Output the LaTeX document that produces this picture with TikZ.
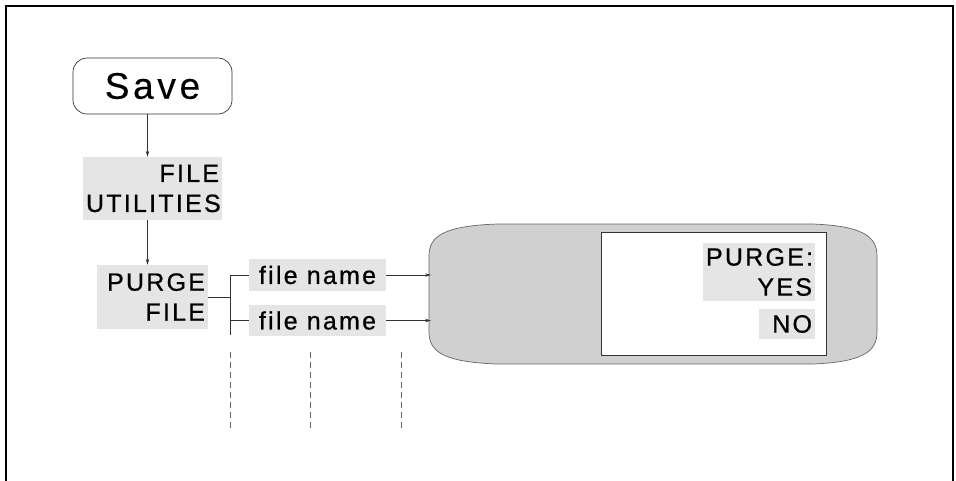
\documentclass[tikz,border=0pt]{standalone}
\usepackage{fontspec}
\setmainfont{Liberation Sans}
\usetikzlibrary{arrows.meta}
\tikzset{
  conn/.style={draw=black!80, line width=0.7pt},
  arr/.style={conn, -{Stealth[length=6pt,width=3.5pt]}},
  guideline/.style={draw=black!60, line width=0.7pt, dash pattern=on 6pt off 4pt},
  lbl/.style={font=\fontsize{25}{30}\selectfont\addfontfeature{LetterSpace=9,FakeBold=0.7}, inner sep=3pt, align=right},
  shadebox/.style={lbl, fill=gray!20, anchor=center},
}
\begin{document}
\begin{tikzpicture}[x=1pt, y=-1pt]
\useasboundingbox (0,0) rectangle (956,480);
% frame
\draw[line width=2pt] (6,481) -- (6,6) -- (953,6) -- (953,481);
% Save
\node[draw=black!80, line width=0.7pt, rounded corners=14pt, minimum width=159pt, minimum height=56pt,
      font=\fontsize{37}{40}\selectfont\addfontfeature{LetterSpace=10,FakeBold=0.3}] (save) at (152.5,86) {Save};
% file utilities
\node[shadebox, minimum width=139pt, minimum height=63pt, text width=133pt] (fu) at (152.5,188.5) {FILE\\UTILITIES};
\node[shadebox, minimum width=111pt, minimum height=64pt, text width=105pt] (pf) at (152.5,297) {PURGE\\FILE};
\node[shadebox, minimum width=137pt, minimum height=32pt] (fn1) at (317.5,275) {file name};
\node[shadebox, minimum width=137pt, minimum height=31pt] (fn2) at (317.5,320.5) {file name};
% big shape
\path[fill=gray!37, draw=black!60, line width=0.7pt]
  (497,224) -- (813,224) .. controls (862,226) and (877,236) .. (877,256)
  -- (877,332) .. controls (877,352) and (862,362) .. (813,364)
  -- (497,364) .. controls (444,362) and (429,352) .. (429,332)
  -- (429,256) .. controls (429,236) and (444,226) .. (497,224) -- cycle;
\node[draw=black!80, fill=white, line width=0.7pt, minimum width=225pt, minimum height=123pt, inner sep=0pt] (win) at (713.5,293.5) {};
\node[shadebox, minimum width=112pt, minimum height=58pt, text width=106pt] (py) at (759,272) {PURGE:\\YES};
\node[shadebox, minimum width=56pt, minimum height=30pt, text width=50pt] (no) at (787,324) {NO};
% connectors
\draw[arr] ([xshift=-5pt]save.south) -- ([xshift=-5pt]fu.north);
\draw[arr] ([xshift=-5pt]fu.south) -- ([xshift=-5pt]pf.north);
\coordinate (jb) at (230,335);
\draw[conn] (pf.east) -- (pf.east -| jb);
\draw[conn] (fn1.west) -| (jb);
\draw[conn] (fn2.west) -- (fn2.west -| jb);
\coordinate (in1) at (431,275);
\coordinate (in2) at (431,320.5);
\draw[arr] (fn1.east) -- (in1);
\draw[arr] (fn2.east) -- (in2);
% dashed guides
\coordinate (d1a) at (230,352); \coordinate (d1b) at (230,430);
\coordinate (d2a) at (310,352); \coordinate (d2b) at (310,430);
\coordinate (d3a) at (401,352); \coordinate (d3b) at (401,430);
\draw[guideline] (d1a) -- (d1b);
\draw[guideline] (d2a) -- (d2b);
\draw[guideline] (d3a) -- (d3b);
\end{tikzpicture}
\end{document}
